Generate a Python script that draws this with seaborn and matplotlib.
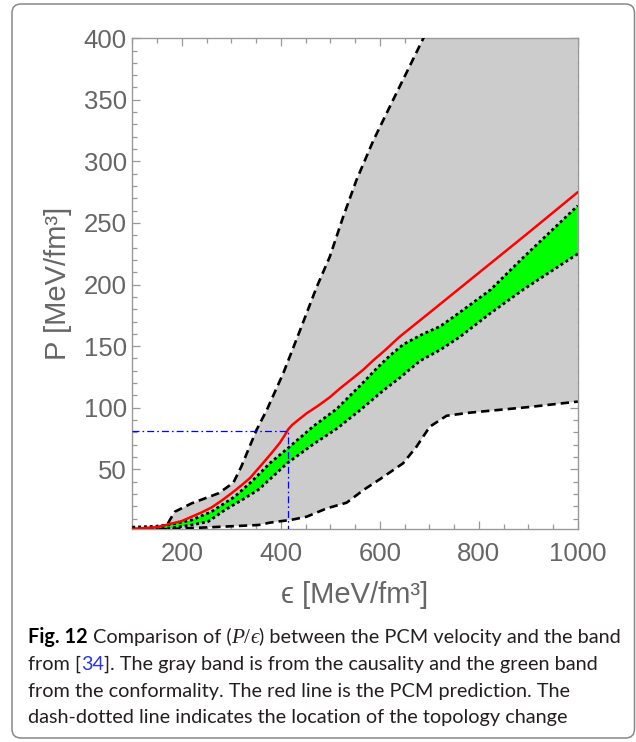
import pandas as pd
import seaborn as sns
import matplotlib.pyplot as plt
import matplotlib.transforms as mtransforms
from matplotlib.patches import FancyBboxPatch
from matplotlib.ticker import FixedLocator, MultipleLocator

# causality band (gray), dashed edges
causal_hi_eps = [172, 176, 186, 220, 274, 304, 320, 351, 371.5, 405, 439, 472.5, 499, 526, 553, 587, 627, 660, 688, 700]
causal_hi_P = [6, 9, 15.6, 22.4, 30.5, 39, 52, 82, 98, 128, 163, 198, 222.6, 255, 285, 317, 350, 377, 400, 408]
causal_lo_eps = [100, 126, 254, 355, 378, 402, 419, 452, 493, 533, 567, 600, 647, 674, 701, 735, 782, 900, 1000]
causal_lo_P = [0.5, 0.7, 2.9, 4.8, 6.7, 8.0, 8.8, 11.5, 18.3, 22.9, 33.2, 41.9, 54.9, 68.3, 84.6, 93.5, 96, 100.5, 105]

# conformality band (green), dotted edges
conf_hi_eps = [100, 150, 175, 220, 260, 307, 341, 378, 414, 466, 513, 563, 594, 621, 648, 688, 722, 762, 823, 890, 1000]
conf_hi_P = [3, 3.8, 5, 8.8, 15.6, 27.8, 40, 55, 67, 85, 99, 119, 132, 142.5, 151.5, 160, 166, 177.5, 195.5, 222, 264]
conf_lo_eps = [100, 172, 220, 253, 287, 321, 355, 378, 413, 466, 513, 560, 607, 641, 681, 722, 762, 823, 890, 1000]
conf_lo_P = [1.5, 2, 4.8, 7.5, 17, 25, 33.5, 42, 55, 70.5, 83, 98, 114, 124.5, 138, 147, 157.6, 176.6, 196, 225]

# PCM prediction (red)
pcm_eps = [100, 150, 175, 200, 220, 240, 260, 282, 305, 322, 338, 352, 365, 382, 398, 407, 415, 423, 432,
           452, 475, 499, 520, 545, 567, 587, 610, 640, 700, 800, 900, 1000]
pcm_P = [1.5, 3, 5.5, 8, 11.5, 15, 19, 25, 32, 37.5, 43, 49.5, 55.5, 63.5, 71.5, 77, 82.5, 86, 89,
         95.4, 101.5, 108.5, 115.8, 123.8, 131, 138.5, 146.5, 157.6, 177, 209.5, 242, 275]

# topology change
topo_eps = 414
topo_P = 81.5

x_ticks = [200, 400, 600, 800, 1000]
y_ticks = [50, 100, 150, 200, 250, 300, 350, 400]
XLIM = (100, 1000)
YLIM = (1.3, 400)

caption_lines = [
    ["Fig. 12", "Comparison of (", "P", "/", "\u03f5", ") between the PCM velocity and the band"],
    ["from [", "34", "]. The gray band is from the causality and the green band"],
    ["from the conformality. The red line is the PCM prediction. The"],
    ["dash-dotted line indicates the location of the topology change"],
]

sns.set_theme(style="ticks")
plt.rcParams['font.family'] = ['Liberation Sans', 'DejaVu Sans']
plt.rcParams['lines.scale_dashes'] = False

W, H = 636, 742
fig = plt.figure(figsize=(W / 100, H / 100), dpi=100)
ax = fig.add_axes([132.3 / W, 1 - 529.3 / H, 445.5 / W, 491.1 / H])

# gray band
gx = causal_hi_eps + [XLIM[1], XLIM[1]] + causal_lo_eps[::-1]
gy = causal_hi_P + [YLIM[1], causal_lo_P[-1]] + causal_lo_P[::-1]
ax.fill(gx, gy, color='#cccccc', lw=0, zorder=1)

# green band
ax.fill(conf_hi_eps + conf_lo_eps[::-1], conf_hi_P + conf_lo_P[::-1], color='#00ff00', lw=0, zorder=2)

dash = (0, (6, 3.6))
dot = (0, (2.1, 2.1))
sns.lineplot(x=causal_hi_eps, y=causal_hi_P, ax=ax, color='black', lw=1.9, linestyle=dash,
             sort=False, estimator=None, zorder=3)
sns.lineplot(x=causal_lo_eps, y=causal_lo_P, ax=ax, color='black', lw=1.9, linestyle=dash,
             sort=False, estimator=None, zorder=3)
sns.lineplot(x=conf_hi_eps, y=conf_hi_P, ax=ax, color='black', lw=2.0, linestyle=dot,
             sort=False, estimator=None, zorder=4)
sns.lineplot(x=conf_lo_eps, y=conf_lo_P, ax=ax, color='black', lw=2.0, linestyle=dot,
             sort=False, estimator=None, zorder=4)
sns.lineplot(x=pcm_eps, y=pcm_P, ax=ax, color='#ff0000', lw=1.8, sort=False, estimator=None, zorder=5)

topo = pd.DataFrame({'eps': [XLIM[0], topo_eps, topo_eps], 'P': [topo_P, topo_P, 0]})
sns.lineplot(data=topo, x='eps', y='P', ax=ax, color='#0000ff', lw=0.9,
             linestyle=(0, (5, 2.2, 1.2, 2.2)), sort=False, estimator=None, zorder=6)

ax.set_xlim(*XLIM)
ax.set_ylim(*YLIM)
ax.xaxis.set_major_locator(FixedLocator(x_ticks))
ax.xaxis.set_minor_locator(MultipleLocator(50))
ax.yaxis.set_major_locator(FixedLocator(y_ticks))
ax.yaxis.set_minor_locator(MultipleLocator(10))
ax.tick_params(which='both', direction='in', top=True, right=True, color='#999999', width=0.9)
ax.tick_params(which='major', length=6, labelsize=18.5, labelcolor='#666666')
ax.tick_params(which='minor', length=3.5)
ax.tick_params(axis='x', pad=9)
ax.tick_params(axis='y', pad=4)
for s in ax.spines.values():
    s.set_color('#999999')
    s.set_linewidth(1.0)

ax.set_xlabel('\u03f5 [MeV/fm\u00b3]', fontsize=21, color='#666666')
ax.set_ylabel('P [MeV/fm\u00b3]', fontsize=21, color='#666666')
ax.xaxis.set_label_coords(0.5, -0.105)
ax.yaxis.set_label_coords(-0.135, 0.5)

# rounded frame around figure
frame = FancyBboxPatch((12, 4), 622.5, 734, boxstyle='round,pad=0,rounding_size=9',
                       transform=mtransforms.IdentityTransform(), fc='none', ec='#888888', lw=1.1)
fig.patches.append(frame)

# caption
renderer = fig.canvas.get_renderer()
cap_fam = ['Lato', 'DejaVu Sans']
math_fam = ['Liberation Serif', 'DejaVu Serif']
cap_size = 14.3
tmp1 = fig.text(0, 0, 'a a', family=cap_fam, fontsize=cap_size)
tmp2 = fig.text(0, 0, 'aa', family=cap_fam, fontsize=cap_size)
space = tmp1.get_window_extent(renderer).width - tmp2.get_window_extent(renderer).width
tmp1.remove()
tmp2.remove()

styles = {
    "Fig. 12": dict(family=cap_fam, weight='bold', color='black'),
    "P": dict(family=math_fam, style='italic', color='#231f20', fontsize=cap_size + 1),
    "/": dict(family=math_fam, color='#231f20', fontsize=cap_size + 1),
    "\u03f5": dict(family=math_fam, style='italic', color='#231f20', fontsize=cap_size + 1),
    "34": dict(family=cap_fam, color='#2b35e0'),
}
baselines = [643, 670, 696.5, 723]
for line, yb in zip(caption_lines, baselines):
    x = 28
    for piece in line:
        kw = dict(family=cap_fam, color='#231f20', fontsize=cap_size)
        kw.update(styles.get(piece, {}))
        t = fig.text(x / W, 1 - yb / H, piece, va='baseline', ha='left', **kw)
        x += t.get_window_extent(renderer).width
        if piece == "Fig. 12":
            x += space

fig.savefig('out.png', dpi=100)
